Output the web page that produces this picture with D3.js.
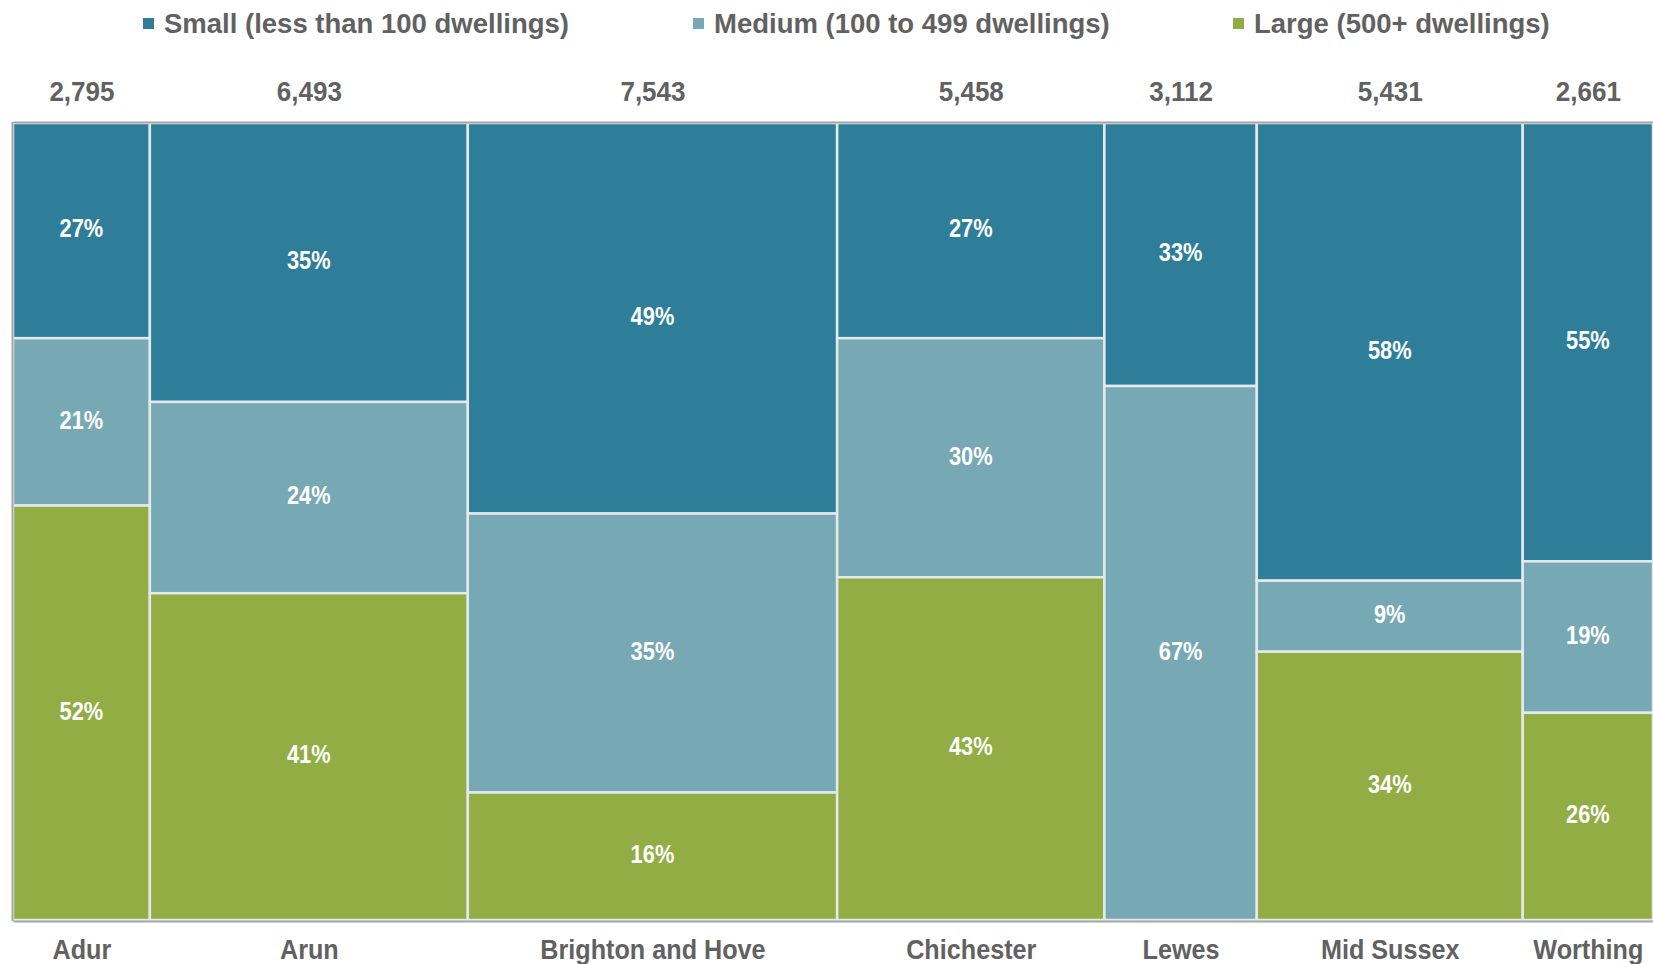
<!DOCTYPE html>
<html>
<head>
<meta charset="utf-8">
<script src="https://cdn.jsdelivr.net/npm/d3@7"></script>
<style>
  html, body { margin: 0; padding: 0; background: #ffffff; }
  svg { display: block; }
  text { font-family: "Liberation Sans", Arial, sans-serif; font-weight: bold; }
</style>
</head>
<body>
<svg id="chart" width="1653" height="964"></svg>
<script>
// ---- data ----
const districts = ["Adur", "Arun", "Brighton and Hove", "Chichester", "Lewes", "Mid Sussex", "Worthing"];
const totals = [2795, 6493, 7543, 5458, 3112, 5431, 2661];
const totalLabels = ["2,795", "6,493", "7,543", "5,458", "3,112", "5,431", "2,661"];
const smallPct  = [27, 35, 49, 27, 33, 58, 55];
const mediumPct = [21, 24, 35, 30, 67, 9, 19];
const largePct  = [52, 41, 16, 43, 0, 34, 26];
const seriesNames = ["Small (less than 100 dwellings)", "Medium (100 to 499 dwellings)", "Large (500+ dwellings)"];
const seriesColors = ["#2E7E99", "#76A9B4", "#91AD43"];

// ---- layout ----
const plotLeft = 13, plotRight = 1653, plotTop = 123, plotBottom = 920;
const textColor = "#616161";

const svg = d3.select("#chart");

const sumTotals = d3.sum(totals);
const x = d3.scaleLinear().domain([0, sumTotals]).range([plotLeft, plotRight]);
const y = d3.scaleLinear().domain([0, 1]).range([plotTop, plotBottom]);

// cumulative x positions
const starts = [];
let acc = 0;
totals.forEach(t => { starts.push(acc); acc += t; });
const mids = totals.map((t, i) => starts[i] + t / 2);

// build segments
const seriesData = [smallPct, mediumPct, largePct];
const segments = [];
districts.forEach((d, i) => {
  const vals = seriesData.map(s => s[i]);
  const rowSum = d3.sum(vals);
  let cum = 0;
  vals.forEach((v, k) => {
    segments.push({
      district: d, k: k, value: v,
      x0: starts[i], x1: starts[i] + totals[i],
      y0: cum / rowSum, y1: (cum + v) / rowSum
    });
    cum += v;
  });
});

const segG = svg.append("g");
segG.selectAll("rect")
  .data(segments.filter(s => s.value > 0))
  .join("rect")
  .attr("x", d => x(d.x0))
  .attr("y", d => y(d.y0))
  .attr("width", d => x(d.x1) - x(d.x0))
  .attr("height", d => y(d.y1) - y(d.y0))
  .attr("fill", d => seriesColors[d.k])
  .attr("stroke", "#e4eaec")
  .attr("stroke-width", 2.5);

// percentage labels
const pctFont = 26;
segG.selectAll("text")
  .data(segments.filter(s => s.value > 0))
  .join("text")
  .attr("transform", d => {
    const cx = (x(d.x0) + x(d.x1)) / 2;
    const cy = (y(d.y0) + y(d.y1)) / 2 + pctFont * 0.26;
    return `translate(${cx},${cy}) scale(0.84,1)`;
  })
  .attr("text-anchor", "middle")
  .attr("fill", "#ffffff")
  .style("font-size", pctFont + "px")
  .text(d => d.value + "%");

// top axis: totals
const topAxis = d3.axisTop(x)
  .tickValues(mids)
  .tickFormat((d, i) => totalLabels[i])
  .tickSize(0)
  .tickSizeOuter(0)
  .tickPadding(21);
const gTop = svg.append("g").attr("transform", `translate(0,${plotTop - 1})`).call(topAxis);
gTop.select(".domain").attr("stroke", "#a6a6a6").attr("stroke-width", 2);
gTop.selectAll("text")
  .attr("fill", textColor)
  .style("font-size", "28px")
  .style("font-family", "'Liberation Sans', Arial, sans-serif")
  .style("font-weight", "bold")
  .attr("transform", "scale(0.93,1)");

// bottom axis: district names
const bottomAxis = d3.axisBottom(x)
  .tickValues(mids)
  .tickFormat((d, i) => districts[i])
  .tickSize(0)
  .tickSizeOuter(0)
  .tickPadding(18);
const gBot = svg.append("g").attr("transform", `translate(0,${plotBottom + 1})`).call(bottomAxis);
gBot.select(".domain").attr("stroke", "#a6a6a6").attr("stroke-width", 2);
gBot.selectAll("text")
  .attr("fill", textColor)
  .style("font-size", "28px")
  .style("font-family", "'Liberation Sans', Arial, sans-serif")
  .style("font-weight", "bold")
  .attr("transform", "scale(0.9,1)");

// left border
svg.append("line")
  .attr("x1", plotLeft - 0.5).attr("x2", plotLeft - 0.5)
  .attr("y1", plotTop - 1).attr("y2", plotBottom + 1)
  .attr("stroke", "#a6a6a6").attr("stroke-width", 2);

// legend
const legendX = [143, 693, 1233];
const legY = 23;
const leg = svg.append("g");
seriesNames.forEach((name, k) => {
  leg.append("rect")
    .attr("x", legendX[k]).attr("y", legY - 5)
    .attr("width", 11).attr("height", 11)
    .attr("fill", seriesColors[k]);
  leg.append("text")
    .attr("x", legendX[k] + 21).attr("y", legY + 10)
    .attr("fill", textColor)
    .style("font-size", "27.5px")
    .text(name);
});
</script>
</body>
</html>
